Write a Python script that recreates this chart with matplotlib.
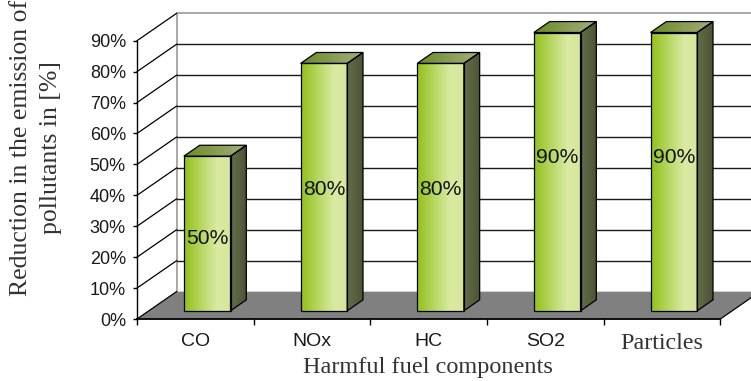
import numpy as np
import matplotlib.pyplot as plt
from matplotlib.patches import Polygon
from matplotlib.colors import LinearSegmentedColormap

# Pollutant reduction per harmful fuel component
components = ['CO', 'NOx', 'HC', 'SO2', 'Particles']
reduction = [0.50, 0.80, 0.80, 0.90, 0.90]
y_ticks = [0.0, 0.1, 0.2, 0.3, 0.4, 0.5, 0.6, 0.7, 0.8, 0.9]

# Where the value label sits inside each bar (fraction of bar height)
label_frac = [0.47, 0.49, 0.49, 0.55, 0.55]

# Oblique depth offset of the 3D box, in data units
DX, DY = 0.3386, 0.0885
D0, D1 = 0.3, 0.7   # bar depth range
W0, W1 = 0.3, 0.7   # bar width range within a category
YMAX = 0.9
n = len(components)

front_cmap = LinearSegmentedColormap.from_list(
    'front', [(0, '#92c01a'), (0.5, '#c4df7c'), (0.72, '#dbeaa3'), (1, '#d5e699')])
top_cmap = LinearSegmentedColormap.from_list('top', ['#6c8c26', '#a4ac7e'])
side_cmap = LinearSegmentedColormap.from_list('side', ['#636e4a', '#4b5334'])
grad = np.linspace(0, 1, 256).reshape(1, -1)

fig = plt.figure(figsize=(7.51, 3.81), dpi=100)
ax = fig.add_axes([0, 0, 1, 1])
ax.set_facecolor('none')


def shaded_poly(pts, cmap, z):
    poly = Polygon(pts, closed=True, facecolor='none', edgecolor='black', lw=0.9, zorder=z + 0.1)
    ax.add_patch(poly)
    xs = [p[0] for p in pts]
    ys = [p[1] for p in pts]
    im = ax.imshow(grad, cmap=cmap, aspect='auto', interpolation='bilinear',
                   extent=(min(xs), max(xs), min(ys), max(ys)), zorder=z)
    clip = Polygon(pts, closed=True, transform=ax.transData)
    im.set_clip_path(clip)


# back wall
ax.add_patch(Polygon([(DX, DY), (n + DX, DY), (n + DX, YMAX + DY), (DX, YMAX + DY)],
                     facecolor='white', edgecolor='none', zorder=1))
ax.plot([DX, DX, n + DX], [DY, YMAX + DY, YMAX + DY], color='#9a9a9a', lw=1.2, zorder=2)
for v in y_ticks[1:-1]:
    ax.plot([DX, n + DX], [v + DY, v + DY], color='#1a1a1a', lw=1.0, zorder=2)

# side gridlines running from the value axis back to the wall
for v in y_ticks:
    ax.plot([0, DX], [v, v + DY], color='black', lw=0.9, zorder=3)

# floor
ax.add_patch(Polygon([(0, 0), (n, 0), (n + DX, DY), (DX, DY)],
                     facecolor='#808080', edgecolor='none', zorder=2.5))
ax.plot([n, n + DX], [0, DY], color='black', lw=0.9, zorder=3)

# bars
for i, v in enumerate(reduction):
    x0, x1 = i + W0, i + W1
    fx0, fx1 = x0 + D0 * DX, x1 + D0 * DX
    bx0, bx1 = x0 + D1 * DX, x1 + D1 * DX
    fy, by = D0 * DY, D1 * DY
    shaded_poly([(fx0, fy), (fx1, fy), (fx1, v + fy), (fx0, v + fy)], front_cmap, 5)
    shaded_poly([(fx1, fy), (bx1, by), (bx1, v + by), (fx1, v + fy)], side_cmap, 5)
    shaded_poly([(fx0, v + fy), (fx1, v + fy), (bx1, v + by), (bx0, v + by)], top_cmap, 5)
    ax.text((fx0 + fx1) / 2, fy + v * label_frac[i], f'{v * 100:.0f}%',
            ha='center', va='center', fontsize=15.2, family='Liberation Sans',
            color='#111111', zorder=7)

# axes and ticks
ax.set_xlim(-1.1743, 5.2627)
ax.set_ylim(-0.2005, 1.0317)
for s in ['top', 'right']:
    ax.spines[s].set_visible(False)
ax.spines['left'].set_position(('data', 0))
ax.spines['bottom'].set_position(('data', 0))
ax.spines['left'].set_bounds(0, YMAX)
ax.spines['bottom'].set_bounds(0, n)
ax.spines['left'].set_zorder(4)
ax.spines['bottom'].set_zorder(4)
ax.spines['left'].set_linewidth(1.0)
ax.spines['bottom'].set_linewidth(1.3)

ax.set_yticks(y_ticks)
ax.set_yticklabels([f'{t * 100:.0f}%' for t in y_ticks], fontsize=13,
                   family='Liberation Sans', color='#1a1a1a')
ax.tick_params(axis='y', direction='out', length=3, width=1, pad=5)

ax.set_xticks(np.arange(n + 1))
ax.set_xticklabels([''] * (n + 1))
ax.set_xticks(np.arange(n) + 0.5, minor=True)
ax.set_xticklabels(components, minor=True, fontsize=14, family='Liberation Sans',
                   color='#1a1a1a')
ax.tick_params(axis='x', which='major', direction='out', length=4, width=1)
ax.tick_params(axis='x', which='minor', length=0, pad=10)
last = ax.get_xticklabels(minor=True)[-1]
last.set_fontfamily('Liberation Serif')
last.set_fontsize(17.3)
last.set_color('#333333')

fig.text(428 / 751, 1 - 367 / 381, 'Harmful fuel components', ha='center', va='center',
         fontsize=17.5, family='Liberation Serif', color='#333333')
fig.text(36 / 751, 1 - 148 / 381, 'Reduction in the emission of\npollutants in [%]',
         rotation=90, ha='center', va='center', multialignment='center',
         fontsize=18.5, family='Liberation Serif', color='#333333', linespacing=1.45)

fig.savefig('out.png', dpi=100, facecolor='white')
